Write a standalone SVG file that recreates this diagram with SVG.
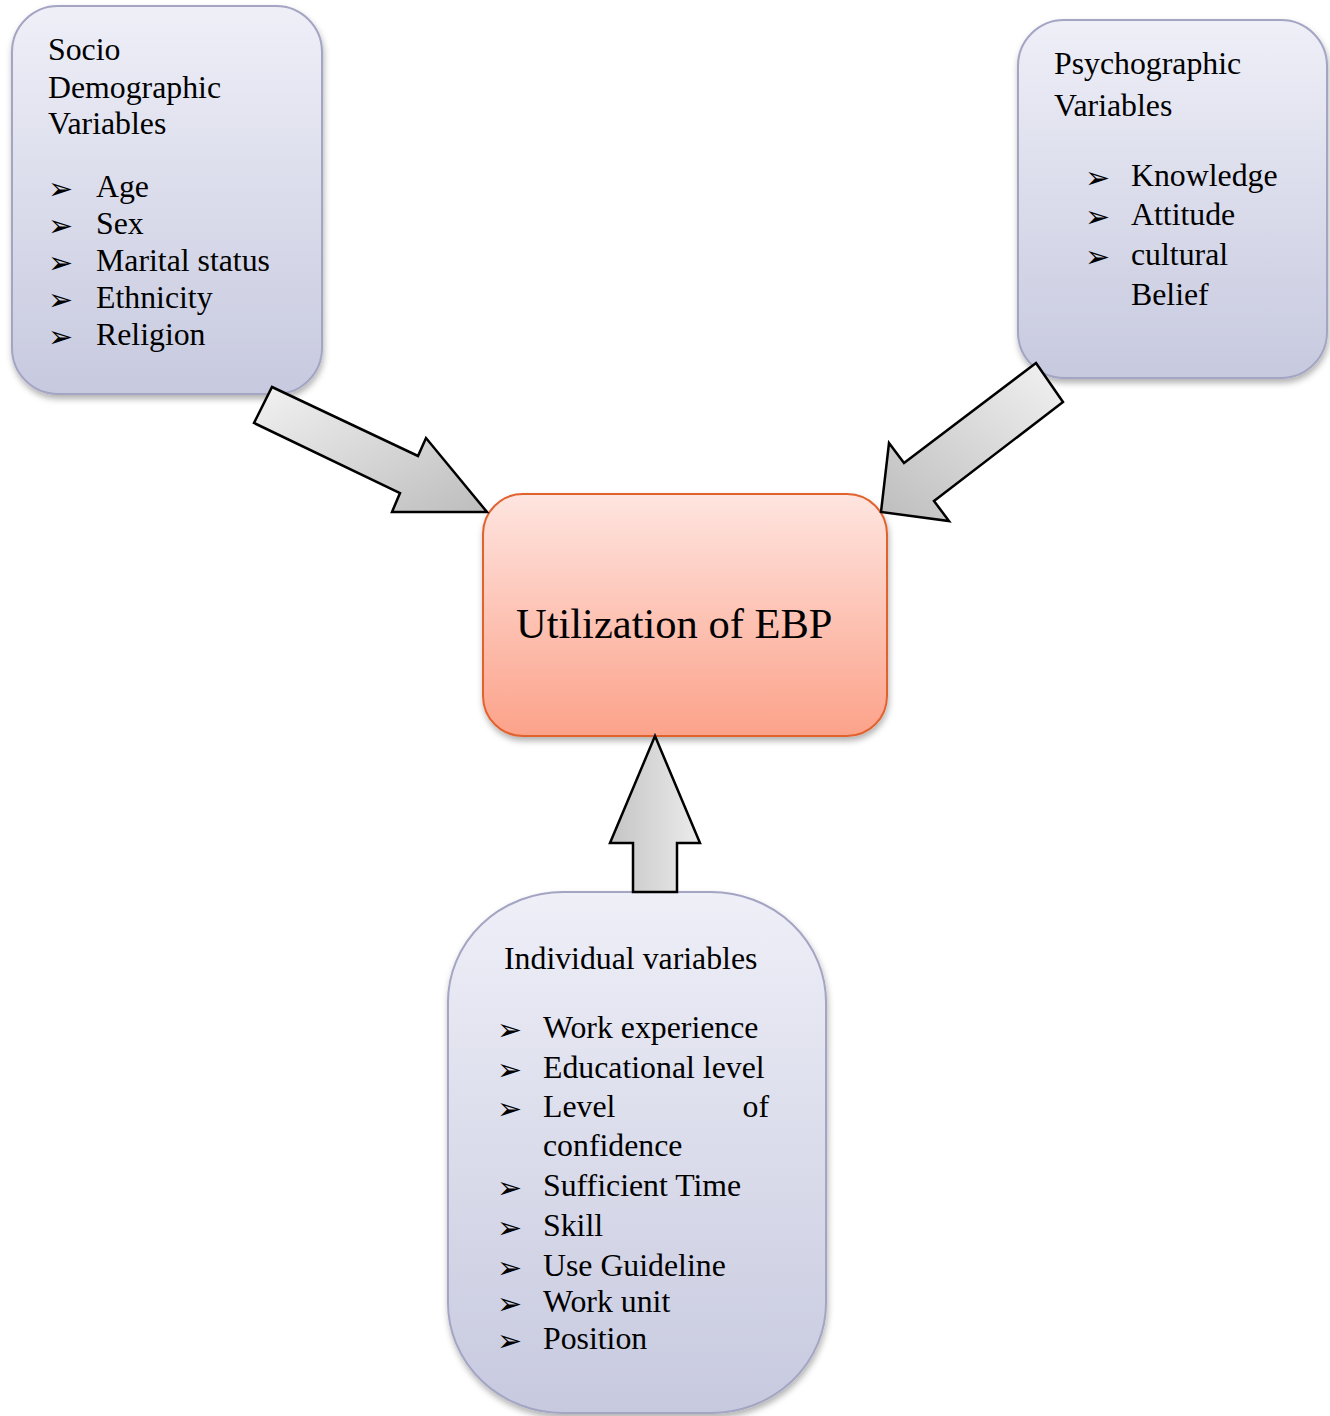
<svg xmlns="http://www.w3.org/2000/svg" width="1330" height="1416" viewBox="0 0 1330 1416">
<defs>
<linearGradient id="gBlue" x1="0" y1="0" x2="0" y2="1">
<stop offset="0" stop-color="#eeeff7"/>
<stop offset="1" stop-color="#c7c9df"/>
</linearGradient>
<linearGradient id="gRed" x1="0" y1="0" x2="0" y2="1">
<stop offset="0" stop-color="#fee5e0"/>
<stop offset="1" stop-color="#fca28a"/>
</linearGradient>
<linearGradient id="gArrow1" x1="0" y1="0" x2="1" y2="1">
<stop offset="0" stop-color="#f2f2f2"/>
<stop offset="1" stop-color="#bdbdbd"/>
</linearGradient>
<linearGradient id="gArrow2" x1="1" y1="0" x2="0" y2="1">
<stop offset="0" stop-color="#f2f2f2"/>
<stop offset="1" stop-color="#bdbdbd"/>
</linearGradient>
<linearGradient id="gArrow3" x1="0" y1="0" x2="1" y2="0">
<stop offset="0" stop-color="#c4c4c4"/>
<stop offset="1" stop-color="#ececec"/>
</linearGradient>
<filter id="sh" x="-10%" y="-10%" width="125%" height="125%">
<feDropShadow dx="1" dy="4" stdDeviation="3" flood-color="#000" flood-opacity="0.3"/>
</filter>
</defs>
<style>
.box{fill:url(#gBlue);stroke:#a3a5c3;stroke-width:2;filter:url(#sh)}
.ctr{fill:url(#gRed);stroke:#e2622f;stroke-width:2;filter:url(#sh)}
.t{font-family:"Liberation Serif","Times New Roman",serif;font-size:31.8px;fill:#000}
.tc{font-family:"Liberation Serif","Times New Roman",serif;font-size:42.5px;fill:#000}
.b{font-family:"DejaVu Sans",sans-serif;font-size:30px;fill:#000}
.arr{stroke:#000;stroke-width:2.5;stroke-linejoin:miter}
</style>
<rect width="1330" height="1416" fill="#fff"/>

<g id="node-socio">
<rect class="box" x="12" y="6" width="310" height="388" rx="46" ry="46"/>
<text class="t" x="48" y="60">Socio</text>
<text class="t" x="48" y="98">Demographic</text>
<text class="t" x="48" y="134">Variables</text>
<text class="b" x="48" y="199">➢</text><text class="t" x="96" y="197">Age</text>
<text class="b" x="48" y="236">➢</text><text class="t" x="96" y="234">Sex</text>
<text class="b" x="48" y="273">➢</text><text class="t" x="96" y="271">Marital status</text>
<text class="b" x="48" y="310">➢</text><text class="t" x="96" y="308">Ethnicity</text>
<text class="b" x="48" y="347">➢</text><text class="t" x="96" y="345">Religion</text>
</g>

<g id="node-psycho">
<rect class="box" x="1018" y="20" width="309" height="358" rx="46" ry="46"/>
<text class="t" x="1054" y="74">Psychographic</text>
<text class="t" x="1054" y="116">Variables</text>
<text class="b" x="1085" y="188">➢</text><text class="t" x="1131" y="186">Knowledge</text>
<text class="b" x="1085" y="227">➢</text><text class="t" x="1131" y="225">Attitude</text>
<text class="b" x="1085" y="267">➢</text><text class="t" x="1131" y="265">cultural</text>
<text class="t" x="1131" y="305">Belief</text>
</g>

<g id="node-ebp">
<rect class="ctr" x="483" y="494" width="404" height="242" rx="40" ry="40"/>
<text class="tc" x="516" y="638">Utilization of EBP</text>
</g>

<g id="node-individual">
<rect class="box" x="448" y="892" width="378" height="521" rx="115" ry="110"/>
<text class="t" x="504" y="969">Individual variables</text>
<text class="b" x="497" y="1040">➢</text><text class="t" x="543" y="1038">Work experience</text>
<text class="b" x="497" y="1080">➢</text><text class="t" x="543" y="1078">Educational level</text>
<text class="b" x="497" y="1119">➢</text><text class="t" x="543" y="1117">Level</text><text class="t" x="769" y="1117" text-anchor="end">of</text>
<text class="t" x="543" y="1156">confidence</text>
<text class="b" x="497" y="1198">➢</text><text class="t" x="543" y="1196">Sufficient Time</text>
<text class="b" x="497" y="1238">➢</text><text class="t" x="543" y="1236">Skill</text>
<text class="b" x="497" y="1278">➢</text><text class="t" x="543" y="1276">Use Guideline</text>
<text class="b" x="497" y="1314">➢</text><text class="t" x="543" y="1312">Work unit</text>
<text class="b" x="497" y="1351">➢</text><text class="t" x="543" y="1349">Position</text>
</g>

<g id="connectors">
<polygon class="arr" fill="url(#gArrow1)" points="272,387 418,456 426,438 487,512 392,512 400,493 254,423"/>
<polygon class="arr" fill="url(#gArrow2)" points="1036,363 1063,402 934,501 949,521 881,512 889,443 904,463"/>
<polygon class="arr" fill="url(#gArrow3)" points="655,736 700,843 677,843 677,892 633,892 633,843 610,843"/>
</g>
</svg>
